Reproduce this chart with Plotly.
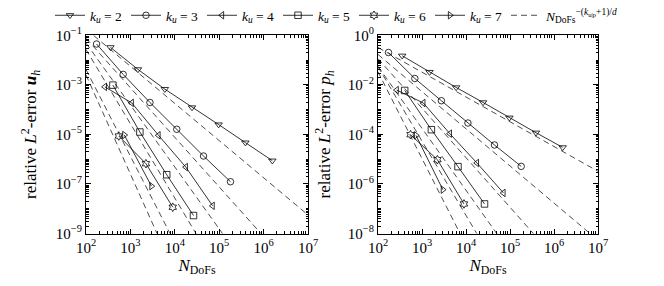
import plotly.graph_objects as go

# ---- data ----
k_values = [2, 3, 4, 5, 6, 7]
symbols = ["triangle-down-open", "circle-open", "triangle-left-open",
           "square-open", "hexagram-open", "triangle-right-open"]

ndofs = {
    2: [355, 1480, 5970, 24400, 97000, 389000, 1574000],
    3: [173, 687, 2755, 11070, 44360, 179500],
    4: [266, 1072, 4295, 17700, 71000],
    5: [404, 1633, 6577, 26360],
    6: [548, 2239, 8995],
    7: [730, 2979],
}

err_u = {
    2: [3.27e-2, 4.20e-3, 6.70e-4, 1.22e-4, 2.49e-5, 4.66e-6, 8.69e-7],
    3: [4.45e-2, 2.64e-3, 1.94e-4, 1.61e-5, 1.34e-6, 1.23e-7],
    4: [8.30e-4, 1.87e-4, 9.20e-6, 4.79e-7, 1.31e-8],
    5: [9.73e-4, 1.25e-5, 2.36e-7, 5.31e-9],
    6: [8.61e-6, 6.58e-7, 1.15e-8],
    7: [9.46e-6, 8.15e-8],
}

err_p = {
    2: [1.49e-1, 3.28e-2, 7.85e-3, 1.95e-3, 4.71e-4, 1.17e-4, 2.99e-5],
    3: [2.02e-1, 1.81e-2, 2.29e-3, 2.88e-4, 3.74e-5, 5.13e-6],
    4: [6.17e-3, 1.85e-3, 1.07e-4, 7.03e-6, 4.34e-7],
    5: [5.94e-3, 1.55e-4, 4.99e-6, 1.56e-7],
    6: [9.73e-5, 9.55e-6, 1.56e-7],
    7: [9.12e-5, 5.89e-7],
}

# reference lines: value at N = 1e2, times (N/1e2)^-(k+1)/d with d = 2
dim = 2
ref_N0 = 1e2
ref_C_u = {2: 10**-0.75, 3: 10**-1.12, 4: 10**-1.315, 5: 10**-1.57, 6: 10**-2.38, 7: 10**-2.6}
ref_C_p = {2: 10**-0.49, 3: 10**-0.773, 4: 10**-0.94, 5: 10**-1.255, 6: 10**-1.27, 7: 10**-1.476}
ref_N = [1e2, 1e7]

xticks = [1e2, 1e3, 1e4, 1e5, 1e6, 1e7]
xticktext = ["10<sup>2</sup>", "10<sup>3</sup>", "10<sup>4</sup>", "10<sup>5</sup>",
             "10<sup>6</sup>", "10<sup>7</sup>"]
yticks_u = [1e-1, 1e-3, 1e-5, 1e-7, 1e-9]
yticktext_u = ["10<sup>−1</sup>", "10<sup>−3</sup>", "10<sup>−5</sup>",
               "10<sup>−7</sup>", "10<sup>−9</sup>"]
yticks_p = [1e0, 1e-2, 1e-4, 1e-6, 1e-8]
yticktext_p = ["10<sup>0</sup>", "10<sup>−2</sup>", "10<sup>−4</sup>",
               "10<sup>−6</sup>", "10<sup>−8</sup>"]

FONT = "Liberation Serif"
legend_ids = ["legend", "legend2", "legend3", "legend4", "legend5", "legend6", "legend7"]
legend_x_px = [50, 126, 202, 278, 354, 430, 506]

fig = go.Figure()

for panel, (errs, refC, xa, ya) in enumerate([(err_u, ref_C_u, "x", "y"),
                                             (err_p, ref_C_p, "x2", "y2")]):
    for i, k in enumerate(k_values):
        fig.add_trace(go.Scatter(
            x=ndofs[k], y=errs[k], xaxis=xa, yaxis=ya,
            mode="lines+markers",
            line=dict(color="black", width=0.8),
            marker=dict(symbol=symbols[i], size=6.5, color="black",
                        line=dict(width=0.8, color="black")),
            name=f"<i>k</i><sub><i>u</i></sub> = {k}",
            showlegend=(panel == 0), legendgroup=str(k), legend=legend_ids[i]))
    for j, k in enumerate(k_values):
        rate = (k + 1 - panel) / dim
        fig.add_trace(go.Scatter(
            x=ref_N, y=[refC[k] * (n / ref_N0) ** (-rate) for n in ref_N],
            xaxis=xa, yaxis=ya, mode="lines",
            line=dict(color="black", width=0.7, dash="6px,4px"),
            name="<i>N</i><sub>DoFs</sub><sup>−(<i>k</i><sub>u|p</sub>+1)/<i>d</i></sup>",
            showlegend=(panel == 0 and j == 0), legendgroup="ref", legend=legend_ids[6]))

axis_common = dict(
    type="log", range=[2, 7], showline=True, linecolor="black", linewidth=1,
    mirror="allticks", ticks="inside", ticklen=5, tickcolor="black",
    showgrid=False, zeroline=False, automargin=False,
    tickfont=dict(family=FONT, size=15, color="black"),
    minor=dict(ticks="inside", ticklen=2.5, tickcolor="black", dtick="D1", showgrid=False),
)

fig.update_layout(
    width=664, height=286,
    margin=dict(l=0, r=0, t=0, b=0),
    paper_bgcolor="white", plot_bgcolor="white",
    font=dict(family=FONT, size=15, color="black"),
    xaxis=dict(axis_common, domain=[86/664, 308/664], anchor="y",
               tickvals=xticks, ticktext=xticktext,
               title=dict(text="<i>N</i><sub>DoFs</sub>", standoff=4,
                          font=dict(family=FONT, size=17))),
    yaxis=dict(axis_common, domain=[52.5/286, 250.7/286], anchor="x",
               range=[-9, -1], tickvals=yticks_u, ticktext=yticktext_u,
               title=dict(text="relative <i>L</i><sup>2</sup>-error <b><i>u</i></b><sub><i>h</i></sub>",
                          standoff=14, font=dict(family=FONT, size=17))),
    xaxis2=dict(axis_common, domain=[378/664, 598/664], anchor="y2",
                tickvals=xticks, ticktext=xticktext,
                title=dict(text="<i>N</i><sub>DoFs</sub>", standoff=4,
                           font=dict(family=FONT, size=17))),
    yaxis2=dict(axis_common, domain=[52.5/286, 250.7/286], anchor="x2",
                range=[-8, 0], tickvals=yticks_p, ticktext=yticktext_p,
                title=dict(text="relative <i>L</i><sup>2</sup>-error <i>p</i><sub><i>h</i></sub>",
                           standoff=12, font=dict(family=FONT, size=17))),
)

for lid, lx in zip(legend_ids, legend_x_px):
    fig.update_layout({lid: dict(orientation="h", x=lx/664, xanchor="left",
                                 y=1.0, yanchor="top",
                                 font=dict(family=FONT, size=13.5), itemwidth=30,
                                 bgcolor="rgba(0,0,0,0)")})

fig.write_html("out.html", config={"displayModeBar": False},
               post_script="document.body.style.margin='0px';")
